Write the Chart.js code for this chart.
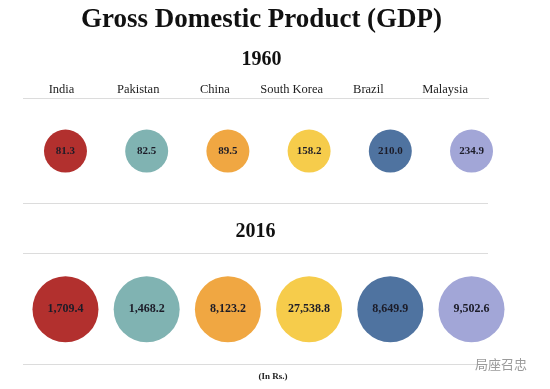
<!DOCTYPE html>
<html>
<head>
<meta charset="utf-8">
<script src="https://cdn.jsdelivr.net/npm/chart.js@4.4.1/dist/chart.umd.min.js"></script>
<style>
  html, body { margin: 0; padding: 0; background: #ffffff; }
  #c { display: block; }
</style>
</head>
<body>
<canvas id="c" width="550" height="389"></canvas>
<script>
// ---- data ----
const countries = ['India', 'Pakistan', 'China', 'South Korea', 'Brazil', 'Malaysia'];
const years = ['1960', '2016'];
const gdp1960 = [81.3, 82.5, 89.5, 158.2, 210.0, 234.9];
const gdp2016 = [1709.4, 1468.2, 8123.2, 27538.8, 8649.9, 9502.6];
const unitNote = '(In Rs.)';
const watermark = '局座召忠';

// ---- styles ----
const colors = ['#B2302E', '#80B3B2', '#F0A742', '#F6CC4B', '#4F73A0', '#A2A6D7'];
const SERIF = '"Liberation Serif", "DejaVu Serif", serif';
const fmt = v => v.toLocaleString('en-US', { minimumFractionDigits: 1, maximumFractionDigits: 1 });
const noPad = s => { s.paddingLeft = 0; s.paddingRight = 0; s.paddingTop = 0; s.paddingBottom = 0; };

const labelPlugin = {
  id: 'bubbleLabels',
  afterDatasetsDraw(chart) {
    const ctx = chart.ctx;
    const ca = chart.chartArea;
    const ys = chart.scales.y;
    ctx.save();
    ctx.textAlign = 'center';
    ctx.textBaseline = 'middle';
    chart.data.datasets.forEach((ds, di) => {
      const meta = chart.getDatasetMeta(di);
      ctx.font = 'bold ' + ds.labelSize + 'px ' + SERIF;
      ctx.fillStyle = '#1c1c28';
      meta.data.forEach((el, i) => {
        ctx.fillText(fmt(ds.values[i]), el.x, el.y);
      });
    });
    // second-row heading
    ctx.font = 'bold 20px ' + SERIF;
    ctx.fillStyle = '#111111';
    ctx.fillText(years[1], (ca.left + ca.right) / 2, ys.getPixelForValue(0.508));
    // unit note
    ctx.font = 'bold 9px ' + SERIF;
    ctx.fillStyle = '#222222';
    ctx.fillText(unitNote, chart.width / 2 - 2, ca.bottom + 13);
    // watermark
    ctx.font = '13px "Noto Sans CJK SC", sans-serif';
    ctx.fillStyle = '#9a9a9a';
    ctx.fillText(watermark, 501, ca.bottom);
    ctx.restore();
  }
};

const rowData = (row) => countries.map((c, i) => ({ x: i, y: row }));

new Chart(document.getElementById('c'), {
  type: 'scatter',
  data: {
    datasets: [
      {
        label: years[0],
        data: rowData(0),
        values: gdp1960,
        labelSize: 11,
        pointRadius: 21.5,
        pointHoverRadius: 21.5,
        pointBackgroundColor: colors,
        pointBorderWidth: 0,
        xAxisID: 'x',
        yAxisID: 'y'
      },
      {
        label: years[1],
        data: rowData(1),
        values: gdp2016,
        labelSize: 12,
        pointRadius: 33,
        pointHoverRadius: 33,
        pointBackgroundColor: colors,
        pointBorderWidth: 0,
        xAxisID: 'x',
        yAxisID: 'y'
      }
    ]
  },
  options: {
    responsive: false,
    devicePixelRatio: 1,
    animation: false,
    events: [],
    clip: false,
    layout: { autoPadding: false, padding: { left: 23, right: 50, top: 0, bottom: 25 } },
    plugins: {
      legend: { display: false },
      tooltip: { enabled: false },
      title: {
        display: true,
        text: 'Gross Domestic Product (GDP)',
        color: '#111111',
        font: { family: SERIF, size: 27, weight: 'bold' },
        padding: { top: 4, bottom: 5 }
      },
      subtitle: {
        display: true,
        text: years[0],
        color: '#111111',
        font: { family: SERIF, size: 20, weight: 'bold' },
        padding: { top: 6, bottom: 9.5 }
      }
    },
    scales: {
      x: {
        type: 'linear',
        display: false,
        min: -0.523,
        max: 5.203
      },
      xl: {
        type: 'linear',
        position: 'top',
        min: -0.502,
        max: 5.56,
        afterBuildTicks: s => { s.ticks = countries.map((c, i) => ({ value: i })); },
        afterFit: noPad,
        grid: { display: false, drawTicks: false },
        border: { display: true, color: '#dcdcdc', width: 1 },
        ticks: {
          autoSkip: false,
          maxRotation: 0,
          padding: 1.5,
          color: '#222222',
          font: { family: SERIF, size: 12.5 },
          callback: (v, i) => countries[i]
        }
      },
      y: {
        type: 'linear',
        position: 'right',
        reverse: true,
        min: -0.3302,
        max: 1.346,
        afterBuildTicks: s => { s.ticks = [{ value: 0.330 }, { value: 0.6476 }, { value: 1.346 }]; },
        afterFit: s => { noPad(s); s.width = 12; },
        grid: { display: true, drawTicks: false, color: '#dcdcdc', lineWidth: 1 },
        border: { display: false },
        ticks: { display: false }
      }
    }
  },
  plugins: [labelPlugin]
});
</script>
</body>
</html>
